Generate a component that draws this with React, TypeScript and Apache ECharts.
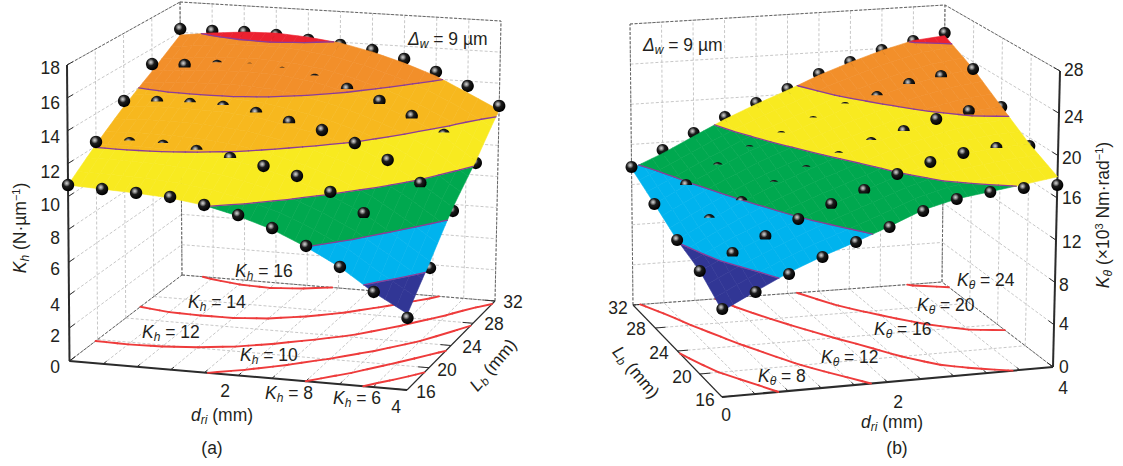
import React, { useEffect, useRef } from "react";
import * as echarts from "echarts";

// ---------- values ----------
const dSteps = [0, 0.4, 0.8, 1.2, 1.6, 2, 2.4, 2.8, 3.2, 3.6, 4];
const lengthTicks = [16, 20, 24, 28, 32];
const kTicksA = [0, 2, 4, 6, 8, 10, 12, 14, 16, 18];
const kTicksB = [0, 4, 8, 12, 16, 20, 24, 28];

// measured points, rows L = 16..32, columns d = 0..4
const pointsA = [
  [10.7, 10.6, 10.51, 10.41, 10.07, 9.61, 8.98, 8.06, 6.96, 5.63, 4.25],
  [12.25, 12.32, 12.28, 12.11, 11.82, 11.47, 11.0, 10.17, 9.03, 7.67, 6.01],
  [13.73, 13.8, 13.81, 13.76, 13.51, 13.09, 12.72, 12.05, 11.14, 9.86, 8.28],
  [15.01, 15.08, 15.15, 15.09, 14.96, 14.65, 14.21, 13.58, 12.76, 11.7, 10.08],
  [16.22, 16.22, 16.28, 16.21, 16.02, 15.82, 15.62, 15.17, 14.46, 13.69, 12.54],
];
// fitted surface
const surfaceA = [
  [10.7, 10.6, 10.5, 10.35, 10.05, 9.55, 8.9, 8.0, 6.95, 5.6, 4.5],
  [12.1, 12.15, 12.1, 11.95, 11.7, 11.3, 10.7, 9.95, 9.0, 7.75, 6.4],
  [13.4, 13.5, 13.5, 13.45, 13.25, 12.85, 12.4, 11.8, 11.0, 9.85, 8.5],
  [14.55, 14.75, 14.85, 14.9, 14.8, 14.5, 14.0, 13.35, 12.55, 11.6, 10.2],
  [15.82, 16.09, 16.28, 16.34, 16.2, 15.95, 15.5, 14.91, 14.2, 13.25, 12.28],
];
// how much of each point shows: 1 whole, -1 behind the surface, else the visible cap
const showA = [
  [1, 1, 1, 1, 1, 1, 1, 1, 1, 1, 1],
  [1, 0.3, 0.25, 0.4, 0.5, 1, 1, 1, 0.9, 0, -1],
  [1, 0.45, 0.35, 0.35, 0.45, 0.6, 1, 1, 1, 0.85, -1],
  [1, 0.7, 0.2, 0.05, 0.05, 0.15, 0.5, 0.75, 0.7, 0.3, -1],
  [-1, -1, -1, -1, -1, -1, -1, -1, -1, -1, 1],
];
const levelsA = [6, 8, 10, 12, 14, 16];
const colorsA = ["#313695", "#00B3EE", "#00A84F", "#F8EA20", "#F7B81E", "#F28F2A", "#EC2130"];

const pointsB = [
  [8.08, 9.39, 10.8, 12.13, 13.28, 14.44, 15.7, 16.59, 17.02, 17.16, 17.22],
  [9.65, 11.1, 12.46, 13.83, 15.02, 16.12, 17.41, 18.33, 18.97, 19.24, 19.2],
  [10.61, 12.29, 13.79, 15.11, 16.33, 17.47, 18.61, 19.55, 20.51, 21.08, 21.26],
  [12.1, 13.73, 15.18, 16.64, 17.8, 19.06, 20.24, 21.12, 22.2, 22.78, 23.28],
  [13.75, 15.24, 16.73, 18.12, 19.32, 20.52, 21.83, 22.84, 23.85, 24.56, 25.17],
];
const surfaceB = [
  [7.9, 9.45, 10.95, 12.2, 13.3, 14.5, 15.8, 16.6, 17.05, 17.5, 18.0],
  [9.65, 11.1, 12.4, 13.75, 14.95, 16.05, 17.2, 18.15, 18.85, 19.25, 19.4],
  [10.6, 12.25, 13.8, 15.15, 16.35, 17.5, 18.5, 19.5, 20.35, 21.0, 21.3],
  [12.1, 13.7, 15.2, 16.6, 17.8, 19.0, 20.2, 21.15, 22.1, 22.8, 23.3],
  [13.6, 14.9, 16.4, 17.9, 19.2, 20.4, 21.7, 22.8, 23.8, 24.6, 24.9],
];
const showB = [
  [1, 1, 1, 1, 1, 1, 1, 1, 1, 1, 1],
  [1, 0.8, 0.8, 1, 0.9, 0.8, 1, 1, 1, 0.5, -1],
  [1, 0.3, 0.35, 0.15, 0.15, 0.15, 0.25, 0.5, 1, 0.8, -1],
  [1, 0.5, 0.2, 0.12, 0.12, 0.12, 0.12, 0.35, 0.5, 0.6, 1],
  [1, -1, -1, -1, -1, -1, -1, -1, -1, -1, -1],
];
const levelsB = [10.5, 13.9, 17.4, 20.8, 24.5];
const colorsB = ["#313695", "#00B3EE", "#00A84F", "#F8EA20", "#F28F2A", "#EC2130"];

const contourLabelsA = ["16", "14", "12", "10", "8", "6"];
const contourLabelsB = ["24", "20", "16", "12", "8"];

// ---------- box geometry ----------
type P = [number, number];
type Box = { f00: P; f10: P; f01: P; f11: P; t00: P; t10: P; t01: P; t11: P; kMax: number };
const boxA: Box = {
  f00: [69.5, 361], f10: [407, 390], f01: [182, 275], f11: [495, 301],
  t00: [67, 65], t10: [409, 85], t01: [180, 2], t11: [501, 21], kMax: 18,
};
const boxB: Box = {
  f00: [722, 397], f10: [1053, 367], f01: [633, 305], f11: [942, 282],
  t00: [723, 92], t10: [1060, 71], t01: [630, 24], t11: [945, 5], kMax: 28,
};
const bil = (a: P, b: P, c: P, e: P, u: number, v: number): P => [
  (1 - v) * ((1 - u) * a[0] + u * b[0]) + v * ((1 - u) * c[0] + u * e[0]),
  (1 - v) * ((1 - u) * a[1] + u * b[1]) + v * ((1 - u) * c[1] + u * e[1]),
];
const project = (box: Box, d: number, L: number, k: number): P => {
  const u = d / 4, v = (L - 16) / 16, w = k / box.kMax;
  const f = bil(box.f00, box.f10, box.f01, box.f11, u, v);
  const t = bil(box.t00, box.t10, box.t01, box.t11, u, v);
  return [f[0] + (t[0] - f[0]) * w, f[1] + (t[1] - f[1]) * w];
};

// ---------- surface into band polygons and level segments ----------
type V = [number, number, number];
const clip = (poly: V[], level: number, keepAbove: boolean): V[] => {
  const out: V[] = [];
  for (let n = 0; n < poly.length; n++) {
    const a = poly[n], b = poly[(n + 1) % poly.length];
    const ina = keepAbove ? a[2] >= level : a[2] <= level;
    const inb = keepAbove ? b[2] >= level : b[2] <= level;
    if (ina) out.push(a);
    if (ina !== inb) {
      const t = (level - a[2]) / (b[2] - a[2]);
      out.push([a[0] + (b[0] - a[0]) * t, a[1] + (b[1] - a[1]) * t, level]);
    }
  }
  return out;
};
const SUB = 3;
const buildSurface = (grid: number[][], levels: number[], colors: string[]) => {
  const polys: { color: string; pts: V[] }[] = [];
  const segs: [V, V][] = [];
  const at = (x: number, y: number): V => {
    const i = Math.min(Math.floor(x), dSteps.length - 2), j = Math.min(Math.floor(y), lengthTicks.length - 2);
    const s = x - i, t = y - j;
    const k =
      (1 - t) * ((1 - s) * grid[j][i] + s * grid[j][i + 1]) +
      t * ((1 - s) * grid[j + 1][i] + s * grid[j + 1][i + 1]);
    return [x * 0.4, 16 + y * 4, k];
  };
  for (let y = 0; y < (lengthTicks.length - 1) * SUB; y++) {
    for (let x = 0; x < (dSteps.length - 1) * SUB; x++) {
      const q: V[] = [at(x / SUB, y / SUB), at((x + 1) / SUB, y / SUB), at((x + 1) / SUB, (y + 1) / SUB), at(x / SUB, (y + 1) / SUB)];
      colors.forEach((color, b) => {
        let poly = q;
        if (b > 0) poly = clip(poly, levels[b - 1], true);
        if (poly.length && b < levels.length) poly = clip(poly, levels[b], false);
        if (poly.length >= 3) polys.push({ color, pts: poly });
      });
      levels.forEach((lv) => {
        const cross: V[] = [];
        for (let n = 0; n < 4; n++) {
          const a = q[n], c = q[(n + 1) % 4];
          if (a[2] < lv !== c[2] < lv) {
            const t = (lv - a[2]) / (c[2] - a[2]);
            cross.push([a[0] + (c[0] - a[0]) * t, a[1] + (c[1] - a[1]) * t, lv]);
          }
        }
        if (cross.length >= 2) segs.push([cross[0], cross[1]]);
      });
    }
  }
  return { polys, segs };
};

// ---------- frame ----------
type Seg = { a: V; b: V; kind: "grid" | "edge" | "axis" | "thin" | "tick" };
const buildFrame = (box: Box, kTicks: number[], wallD: number, axisD: number) => {
  const out: Seg[] = [];
  const K = box.kMax;
  lengthTicks.forEach((L) => {
    out.push({ a: [wallD, L, 0], b: [wallD, L, K], kind: "grid" });
    out.push({ a: [0, L, 0], b: [4, L, 0], kind: "grid" });
  });
  dSteps.forEach((d) => {
    out.push({ a: [d, 32, 0], b: [d, 32, K], kind: "grid" });
    out.push({ a: [d, 16, 0], b: [d, 32, 0], kind: "grid" });
  });
  kTicks.forEach((k) => {
    out.push({ a: [wallD, 16, k], b: [wallD, 32, k], kind: "grid" });
    out.push({ a: [0, 32, k], b: [4, 32, k], kind: "grid" });
  });
  out.push({ a: [wallD, 16, K], b: [wallD, 32, K], kind: "edge" });
  out.push({ a: [0, 32, K], b: [4, 32, K], kind: "edge" });
  out.push({ a: [0, 32, 0], b: [4, 32, 0], kind: "edge" });
  out.push({ a: [wallD, 16, 0], b: [wallD, 32, 0], kind: "edge" });
  out.push({ a: [0, 32, 0], b: [0, 32, K], kind: "edge" });
  out.push({ a: [4, 32, 0], b: [4, 32, K], kind: "edge" });
  // solid axes
  out.push({ a: [wallD, 16, 0], b: [wallD, 16, K], kind: "axis" });
  out.push({ a: [0, 16, 0], b: [4, 16, 0], kind: "axis" });
  out.push({ a: [axisD, 16, 0], b: [axisD, 32, 0], kind: "thin" });
  kTicks.forEach((k) => out.push({ a: [wallD, 16, k], b: [wallD, 16.8, k], kind: "tick" }));
  dSteps.forEach((d) => out.push({ a: [d, 16, 0], b: [d, 16.5, 0], kind: "tick" }));
  const inward = axisD === 4 ? -0.13 : 0.13;
  lengthTicks.forEach((L) => out.push({ a: [axisD, L, 0], b: [axisD + inward, L, 0], kind: "tick" }));
  return out;
};

const segStyle: Record<string, any> = {
  grid: { stroke: "#b9b9b9", lineWidth: 0.8, lineDash: [3, 2] },
  edge: { stroke: "#666", lineWidth: 1, lineDash: [3, 1.5] },
  axis: { stroke: "#2b2b2b", lineWidth: 2 },
  thin: { stroke: "#2b2b2b", lineWidth: 1.1 },
  tick: { stroke: "#2b2b2b", lineWidth: 1 },
};

// ---------- series helpers ----------
const layer = (items: any[], z: number, draw: (item: any, api: any) => any) => ({
  type: "custom",
  coordinateSystem: "cartesian2d",
  clip: false,
  silent: true,
  z,
  data: items.map((_, i) => [i, 0]),
  renderItem: (params: any, api: any) => draw(items[params.dataIndex], api),
});
const px = (api: any, box: Box, v: V) => api.coord(project(box, v[0], v[1], v[2]));

const ballEl = (api: any, box: Box, b: { v: V; show: number }, R: number) => {
  const [cx, cy] = px(api, box, b.v);
  const fill = {
    type: "radial", x: cx - 1.3, y: cy - 1.8, r: R + 1.5, global: true,
    colorStops: [
      { offset: 0, color: "#d4d4d4" },
      { offset: 0.22, color: "#8a8a8a" },
      { offset: 0.45, color: "#1d1d1d" },
      { offset: 1, color: "#000" },
    ],
  };
  if (b.show >= 1 || b.show < 0)
    return { type: "circle", shape: { cx, cy, r: R }, style: { fill } };
  const h = -R + 2 * R * b.show;
  const a0 = Math.asin(Math.max(-1, Math.min(1, h / R)));
  const points: number[][] = [];
  const N = 16;
  for (let n = 0; n <= N; n++) {
    const a = Math.PI - a0 + ((Math.PI + 2 * a0) * n) / N;
    points.push([cx + R * Math.cos(a), cy + R * Math.sin(a)]);
  }
  return { type: "polygon", shape: { points }, style: { fill } };
};

const buildPanel = (box: Box, grid: number[][], pts: number[][], show: number[][], levels: number[], colors: string[], kTicks: number[], wallD: number, axisD: number, R: number) => {
  const { polys, segs } = buildSurface(grid, levels, colors);
  const frame = buildFrame(box, kTicks, wallD, axisD);
  const balls: { v: V; show: number }[] = [];
  pts.forEach((row, j) => row.forEach((k, i) => {
    if (show[j][i] !== 0) balls.push({ v: [dSteps[i], lengthTicks[j], k], show: show[j][i] });
  }));
  return [
    layer(frame, 2, (s: Seg, api) => {
      const a = px(api, box, s.a), b = px(api, box, s.b);
      return { type: "line", shape: { x1: a[0], y1: a[1], x2: b[0], y2: b[1] }, style: segStyle[s.kind] };
    }),
    layer(segs, 3, (s: [V, V], api) => {
      const a = px(api, box, [s[0][0], s[0][1], 0]), b = px(api, box, [s[1][0], s[1][1], 0]);
      return { type: "line", shape: { x1: a[0], y1: a[1], x2: b[0], y2: b[1] }, style: { stroke: "#EE3B3B", lineWidth: 1.9, lineCap: "round" } };
    }),
    layer(balls.filter((b) => b.show < 0), 4, (b, api) => ballEl(api, box, b, R)),
    layer(polys, 5, (p, api) => ({
      type: "polygon",
      shape: { points: p.pts.map((v: V) => px(api, box, v)) },
      style: { fill: p.color, stroke: p.color, lineWidth: 0.6 },
    })),
    layer(segs, 6, (s: [V, V], api) => {
      const a = px(api, box, s[0]), b = px(api, box, s[1]);
      return { type: "line", shape: { x1: a[0], y1: a[1], x2: b[0], y2: b[1] }, style: { stroke: "#8B3C9A", lineWidth: 1.3, lineCap: "round" } };
    }),
    layer(balls.filter((b) => b.show > 0), 7, (b, api) => ballEl(api, box, b, R)),
  ];
};

// ---------- texts ----------
const FONT = '"Liberation Sans", Arial, sans-serif';
const INK = "#231f20";
const rich = {
  n: { fontFamily: FONT, fontSize: 17.5, color: INK },
  i: { fontFamily: FONT, fontSize: 17.5, fontStyle: "italic", color: INK },
  s: { fontFamily: FONT, fontSize: 12, fontStyle: "italic", color: INK, padding: [9, 0, 0, 0] },
  u: { fontFamily: FONT, fontSize: 11, color: INK, padding: [0, 0, 8, 0] },
};
const label = (text: string, x: number, y: number, align = "center", rotation = 0) => ({
  type: "text", x, y, rotation, silent: true, z: 20,
  style: { text, rich, align, verticalAlign: "middle", fontFamily: FONT, fontSize: 17.5, fill: INK },
});

const texts = () => {
  const out: any[] = [];
  const yA = [367, 336, 305, 269, 238, 205, 172, 137, 103, 68];
  kTicksA.forEach((k, n) => out.push(label(`{n|${k}}`, 60, yA[n], "right")));
  const yB = [367, 324, 285, 242, 198, 158, 117, 70];
  const xB = [1059, 1059, 1059, 1062, 1062, 1062, 1064, 1064];
  kTicksB.forEach((k, n) => out.push(label(`{n|${k}}`, xB[n], yB[n], "left")));
  const lA: P[] = [[426, 392], [447, 370], [472, 347], [494, 324], [513, 302]];
  const lB: P[] = [[705, 400], [682, 377], [659, 353], [636, 329], [618, 308]];
  lengthTicks.forEach((L, n) => {
    out.push(label(`{n|${L}}`, lA[n][0], lA[n][1]));
    out.push(label(`{n|${L}}`, lB[n][0], lB[n][1]));
  });
  out.push(label("{n|2}", 225, 391), label("{n|4}", 396, 407));
  out.push(label("{n|0}", 726, 415), label("{n|2}", 898, 402), label("{n|4}", 1063, 388));
  out.push(label("{i|d}{s|ri}{n| (mm)}", 222, 415), label("{i|d}{s|ri}{n| (mm)}", 892, 422));
  out.push(label("{n|(a)}", 212, 448), label("{n|(b)}", 897, 448));
  out.push(label("{i|L}{s|b}{n| (mm)}", 493, 365, "center", 0.87));
  out.push(label("{i|L}{s|b}{n| (mm)}", 636, 372, "center", -0.87));
  out.push(label("{i|K}{s|h}{n| (N·µm}{u|−1}{n|)}", 20, 228, "center", Math.PI / 2));
  out.push(label("{i|K}{s|θ}{n| (×10}{u|3}{n| Nm·rad}{u|−1}{n|)}", 1103, 215, "center", Math.PI / 2));
  out.push(label("{i|Δ}{s|w}{n| = 9 µm}", 408, 39, "left"), label("{i|Δ}{s|w}{n| = 9 µm}", 643, 45, "left"));
  const cA: P[] = [[235, 271], [188, 302], [142, 332], [240, 355], [265, 393], [333, 398]];
  contourLabelsA.forEach((t, n) => out.push(label(`{i|K}{s|h}{n| = ${t}}`, cA[n][0], cA[n][1], "left")));
  const cB: P[] = [[957, 280], [917, 305], [874, 329], [821, 357], [758, 376]];
  contourLabelsB.forEach((t, n) => out.push(label(`{i|K}{s|θ}{n| = ${t}}`, cB[n][0], cB[n][1], "left")));
  return out;
};

export default function App() {
  const ref = useRef<HTMLDivElement>(null);
  useEffect(() => {
    document.body.style.margin = "0";
    const chart = echarts.init(ref.current!, undefined, { renderer: "svg" });
    chart.setOption({
      animation: false,
      backgroundColor: "#fff",
      grid: { left: 0, right: 0, top: 0, bottom: 0 },
      xAxis: { type: "value", min: 0, max: 1123, show: false },
      yAxis: { type: "value", min: 0, max: 466, inverse: true, show: false },
      series: [
        ...buildPanel(boxA, surfaceA, pointsA, showA, levelsA, colorsA, kTicksA, 0, 4, 6.2),
        ...buildPanel(boxB, surfaceB, pointsB, showB, levelsB, colorsB, kTicksB, 4, 0, 6),
      ],
      graphic: { elements: texts() },
    });
    return () => chart.dispose();
  }, []);
  return <div ref={ref} style={{ width: 1123, height: 466, position: "absolute", left: 0, top: 0 }} />;
}
